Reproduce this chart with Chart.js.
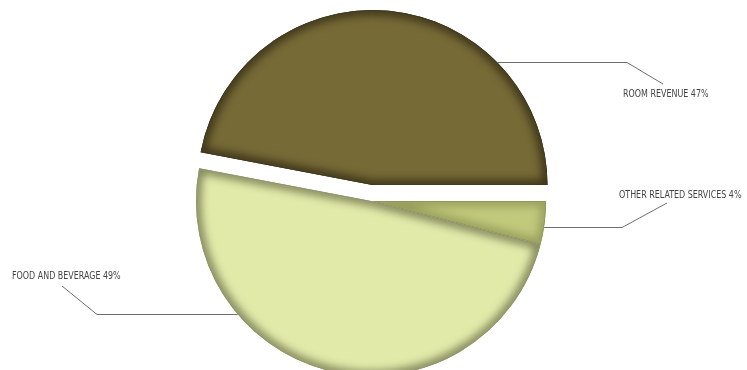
<!DOCTYPE html>
<html>
<head>
<meta charset="utf-8">
<script src="https://cdn.jsdelivr.net/npm/chart.js@4.4.0/dist/chart.umd.min.js"></script>
<style>
html,body{margin:0;padding:0;background:#fff;overflow:hidden;}
#wrap{position:relative;width:747px;height:370px;}
</style>
</head>
<body>
<div id="wrap"><canvas id="c" width="747" height="370"></canvas></div>
<script>
// ---- data ----
const categories = ['ROOM REVENUE', 'OTHER RELATED SERVICES', 'FOOD AND BEVERAGE'];
const shares = [47, 4, 49];
const sliceColors = ['#766a36', '#c1c97c', '#e1eaa9'];
const edgeShades = ['rgba(45,38,18,0.8)', 'rgba(110,115,60,0.5)', 'rgba(95,98,62,0.75)'];
const outlineColors = ['#3d3820', '#8e9455', '#8f9270'];
const explodeBy = [16, 0, 0];
// leader-line layout: anchor angle on rim (deg), elbow x, end point, text position
const leaders = [
  {angle: -44.7, elbowX: 627, end: [663, 84], text: [623, 94]},
  {angle: 8.5,   elbowX: 622, end: [667, 203], text: [619, 195]},
  {angle: 139.6, elbowX: 97,  end: [62, 286], text: [12, 276]}
];

const explodePlugin = {
  id: 'explodeDraw',
  beforeDatasetDraw(chart, args) {
    const ctx = chart.ctx;
    const arcs = args.meta.data;
    arcs.forEach((arc, i) => {
      const mid = (arc.startAngle + arc.endAngle) / 2;
      const d = explodeBy[i];
      ctx.save();
      ctx.translate(Math.cos(mid) * d, Math.sin(mid) * d);
      arc.draw(ctx);
      // inner bevel shading
      ctx.save();
      ctx.beginPath();
      ctx.moveTo(arc.x, arc.y);
      ctx.arc(arc.x, arc.y, arc.outerRadius, arc.startAngle, arc.endAngle);
      ctx.closePath();
      ctx.clip();
      ctx.filter = 'blur(4px)';
      ctx.lineWidth = 10;
      ctx.strokeStyle = edgeShades[i];
      ctx.stroke();
      ctx.filter = 'none';
      ctx.lineWidth = 1.5;
      ctx.strokeStyle = outlineColors[i];
      ctx.stroke();
      ctx.restore();
      ctx.restore();
    });
    return false;
  },
  afterDraw(chart) {
    const ctx = chart.ctx;
    const arcs = chart.getDatasetMeta(0).data;
    ctx.save();
    ctx.strokeStyle = '#6e6e6e';
    ctx.lineWidth = 1;
    ctx.fillStyle = '#444';
    ctx.font = '10px "Liberation Sans Narrow", "Arial Narrow", "DejaVu Sans Condensed", sans-serif';
    ctx.textBaseline = 'middle';
    ctx.textAlign = 'left';
    leaders.forEach((L, i) => {
      const arc = arcs[i];
      const mid = (arc.startAngle + arc.endAngle) / 2;
      const cx = arc.x + Math.cos(mid) * explodeBy[i];
      const cy = arc.y + Math.sin(mid) * explodeBy[i];
      const a = L.angle * Math.PI / 180;
      const sx = cx + Math.cos(a) * arc.outerRadius;
      const sy = cy + Math.sin(a) * arc.outerRadius;
      ctx.beginPath();
      ctx.moveTo(sx, Math.round(sy) + 0.5);
      ctx.lineTo(L.elbowX, Math.round(sy) + 0.5);
      ctx.lineTo(L.end[0], L.end[1]);
      ctx.stroke();
      ctx.save();
      ctx.translate(L.text[0], L.text[1]);
      ctx.scale(0.885, 1);
      ctx.fillText(categories[i] + ' ' + shares[i] + '%', 0, 0);
      ctx.restore();
    });
    ctx.restore();
  }
};

new Chart(document.getElementById('c'), {
  type: 'pie',
  data: {
    labels: categories,
    datasets: [{
      data: shares,
      backgroundColor: sliceColors,
      borderWidth: 0,
      radius: 175
    }]
  },
  options: {
    responsive: false,
    animation: false,
    rotation: -79.2,
    layout: {padding: {left: 0, right: 5, top: 32, bottom: 0}},
    plugins: {legend: {display: false}, tooltip: {enabled: false}}
  },
  plugins: [explodePlugin]
});
</script>
</body>
</html>
